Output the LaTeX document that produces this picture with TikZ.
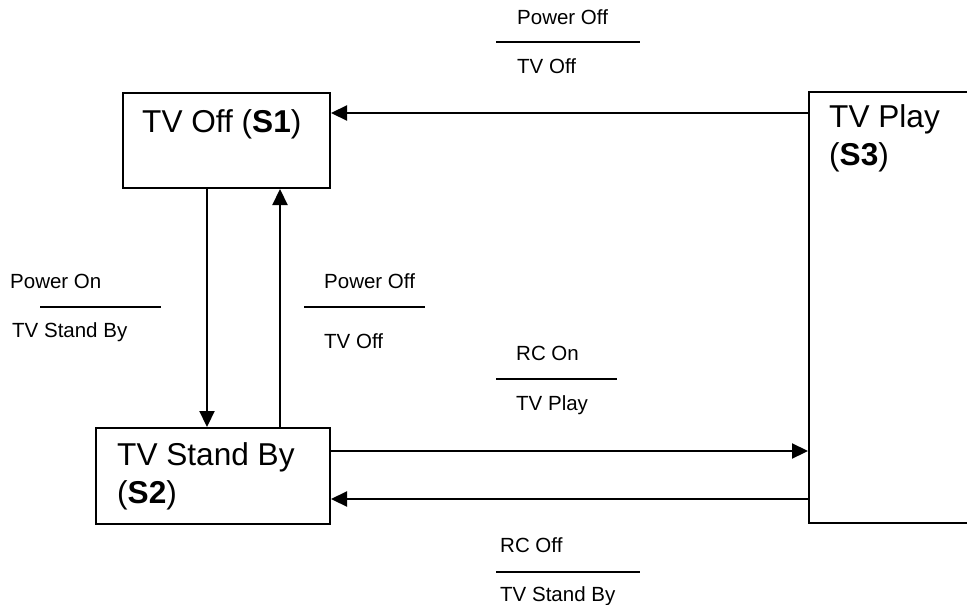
\documentclass[tikz,border=0pt]{standalone}
\usepackage{fontspec}
\setmainfont{Liberation Sans}
\usetikzlibrary{arrows.meta}

\tikzset{
  StateStyle/.style={draw, line width=2pt, rectangle, anchor=north west, inner sep=0pt},
  StateText/.style={anchor=base west, inner sep=0pt, font=\fontsize{31.6}{36}\selectfont},
  GuardText/.style={anchor=base west, inner sep=0pt, font=\fontsize{20.5}{24}\selectfont},
  GuardBar/.style={line width=2.2pt},
  EdgeStyle/.style={line width=2.2pt, -{Triangle[length=16pt,width=15pt]}}
}

\begin{document}
\begin{tikzpicture}[x=1pt, y=-1pt]
    \useasboundingbox (0,0) rectangle (967,605);

    % states
    \node[StateStyle, minimum width=207pt, minimum height=95pt] (S1) at (122,92) {};
    \node[StateStyle, minimum width=234pt, minimum height=96pt] (S2) at (95,427) {};
    \node[StateStyle, minimum width=180pt, minimum height=431pt] (S3) at (808,91) {};

    \node[StateText] (S1a) at (142,132) {TV Off (\textbf{S1})};
    \node[StateText] (S2a) at (117,465) {TV Stand By};
    \node[StateText] (S2b) at (117,503) {(\textbf{S2})};
    \node[StateText] (S3a) at (829,127) {TV Play};
    \node[StateText] (S3b) at (829,165) {(\textbf{S3})};

    % transitions
    \draw[EdgeStyle] (S3.west |- 0,113) -- (S1.east |- 0,113);
    \draw[EdgeStyle] (S1.south -| 207,0) -- (S2.north -| 207,0);
    \draw[EdgeStyle] (S2.north -| 280,0) -- (S1.south -| 280,0);
    \draw[EdgeStyle] (S2.east |- 0,451) -- (S3.west |- 0,451);
    \draw[EdgeStyle] (S3.west |- 0,499) -- (S2.east |- 0,499);

    % guards
    \node[GuardText] (g31a) at (517,24) {Power Off};
    \draw[GuardBar] (496,42) -- (640,42);
    \node[GuardText] (g31b) at (517,73) {TV Off};

    \node[GuardText] (g12a) at (10,288) {Power On};
    \draw[GuardBar] (40,307) -- (161,307);
    \node[GuardText] (g12b) at (12,337) {TV Stand By};

    \node[GuardText] (g21a) at (324,288) {Power Off};
    \draw[GuardBar] (304,307) -- (425,307);
    \node[GuardText] (g21b) at (324,348) {TV Off};

    \node[GuardText] (g23a) at (516,360) {RC On};
    \draw[GuardBar] (496,379) -- (617,379);
    \node[GuardText] (g23b) at (516,410) {TV Play};

    \node[GuardText] (g32a) at (500,552) {RC Off};
    \draw[GuardBar] (496,572) -- (640,572);
    \node[GuardText] (g32b) at (500,601) {TV Stand By};
\end{tikzpicture}
\end{document}
